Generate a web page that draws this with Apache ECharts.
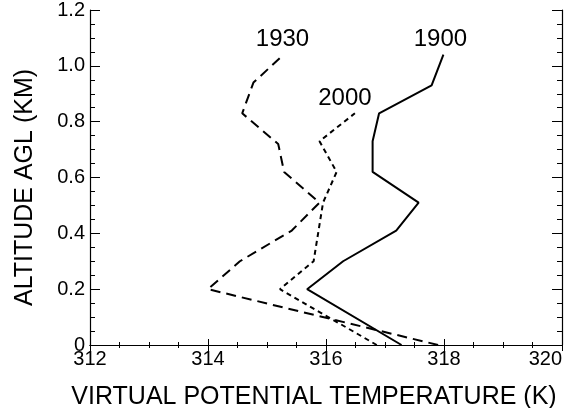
<!DOCTYPE html>
<html>
<head>
<meta charset="utf-8">
<script src="https://cdn.jsdelivr.net/npm/echarts@6/dist/echarts.min.js"></script>
<style>html,body{margin:0;padding:0;background:#fff}#c{width:568px;height:408px}</style>
</head>
<body>
<div id="c"></div>
<script>
// Data
var alt1900 = [0, 0.2, 0.3, 0.41, 0.51, 0.62, 0.73, 0.83, 0.93, 1.04];
var temp1900 = [317.28, 315.68, 316.29, 317.19, 317.57, 316.79, 316.79, 316.90, 317.79, 317.99];
var alt1930 = [0, 0.2, 0.3, 0.41, 0.51, 0.62, 0.72, 0.83, 0.94, 1.04];
var temp1930 = [317.9, 314.0, 314.54, 315.42, 315.89, 315.29, 315.19, 314.58, 314.77, 315.28];
var alt2000 = [0, 0.2, 0.3, 0.51, 0.62, 0.73, 0.83];
var temp2000 = [316.86, 315.22, 315.79, 315.95, 316.18, 315.89, 316.49];
var seriesNames = ['1900', '1930', '2000'];
var yTickLabels = {'0': '0', '0.2': '0.2', '0.4': '0.4', '0.6': '0.6', '0.8': '0.8', '1': '1.0', '1.2': '1.2'};
var xTickLabels = ['312', '314', '316', '318', '320'];

var FONT = 'Liberation Sans';

function build(temps, alts, name, offset) {
  return temps.map(function (t, i) {
    var item = { value: [t, alts[i]] };
    if (i === temps.length - 1) {
      item.label = {
        show: true, formatter: name, position: 'top', distance: 3,
        offset: offset, color: '#000', fontSize: 24, fontFamily: FONT
      };
    }
    return item;
  });
}

function lineSeries(temps, alts, name, type, offset) {
  return {
    type: 'line', name: name, xAxisIndex: 0, yAxisIndex: 0,
    data: build(temps, alts, name, offset),
    showSymbol: true, symbolSize: 0, symbol: 'circle',
    lineStyle: { color: '#000', width: 2, type: type },
    itemStyle: { color: '#000' },
    label: { show: false },
    emphasis: { disabled: true },
    z: 3
  };
}

var axisCommonX = {
  type: 'value', min: 312, max: 320, interval: 2,
  axisLine: { show: true, lineStyle: { color: '#000', width: 1.2 } },
  axisTick: { show: true, inside: true, length: 6, lineStyle: { color: '#000', width: 1 } },
  minorTick: { show: true, splitNumber: 4, length: 3, lineStyle: { color: '#000', width: 1 } },
  splitLine: { show: false }, minorSplitLine: { show: false }
};
var axisCommonY = {
  type: 'value', min: 0, max: 1.2, interval: 0.2,
  axisLine: { show: true, lineStyle: { color: '#000', width: 1.2 } },
  axisTick: { show: true, inside: true, length: 10, lineStyle: { color: '#000', width: 1 } },
  minorTick: { show: true, splitNumber: 4, length: 5, lineStyle: { color: '#000', width: 1 } },
  splitLine: { show: false }, minorSplitLine: { show: false }
};

var chart = echarts.init(document.getElementById('c'), null, { renderer: 'canvas' });
chart.setOption({
  animation: false,
  backgroundColor: '#fff',
  grid: { left: 90, right: 6, top: 10, bottom: 63, containLabel: false, outerBoundsMode: 'none' },
  xAxis: [
    Object.assign({}, axisCommonX, {
      position: 'bottom',
      name: 'VIRTUAL POTENTIAL TEMPERATURE (K)', nameLocation: 'middle', nameGap: 40,
      nameTextStyle: { color: '#000', fontSize: 25, fontFamily: FONT, padding: [0, 24, 0, 0] },
      axisLabel: {
        show: true, margin: 4, color: '#000', fontSize: 20, fontFamily: FONT,
        alignMaxLabel: 'right',
        formatter: function (v) { return xTickLabels[Math.round((v - 312) / 2)]; }
      }
    }),
    Object.assign({}, axisCommonX, { position: 'top', axisLabel: { show: false } })
  ],
  yAxis: [
    Object.assign({}, axisCommonY, {
      position: 'left',
      name: 'ALTITUDE AGL (KM)', nameLocation: 'middle', nameGap: 52,
      nameTextStyle: { color: '#000', fontSize: 25, fontFamily: FONT, padding: [0, 20, 0, 0] },
      axisLabel: {
        show: true, margin: 5, color: '#000', fontSize: 20, fontFamily: FONT,
        formatter: function (v) { return yTickLabels[String(Math.round(v * 10) / 10)]; }
      }
    }),
    Object.assign({}, axisCommonY, { position: 'right', axisLabel: { show: false } })
  ],
  series: [
    lineSeries(temp1900, alt1900, seriesNames[0], 'solid', [-3, 0]),
    lineSeries(temp1930, alt1930, seriesNames[1], [10, 6], [-1, 0]),
    lineSeries(temp2000, alt2000, seriesNames[2], [5, 4], [-10, 0])
  ]
});
</script>
</body>
</html>
